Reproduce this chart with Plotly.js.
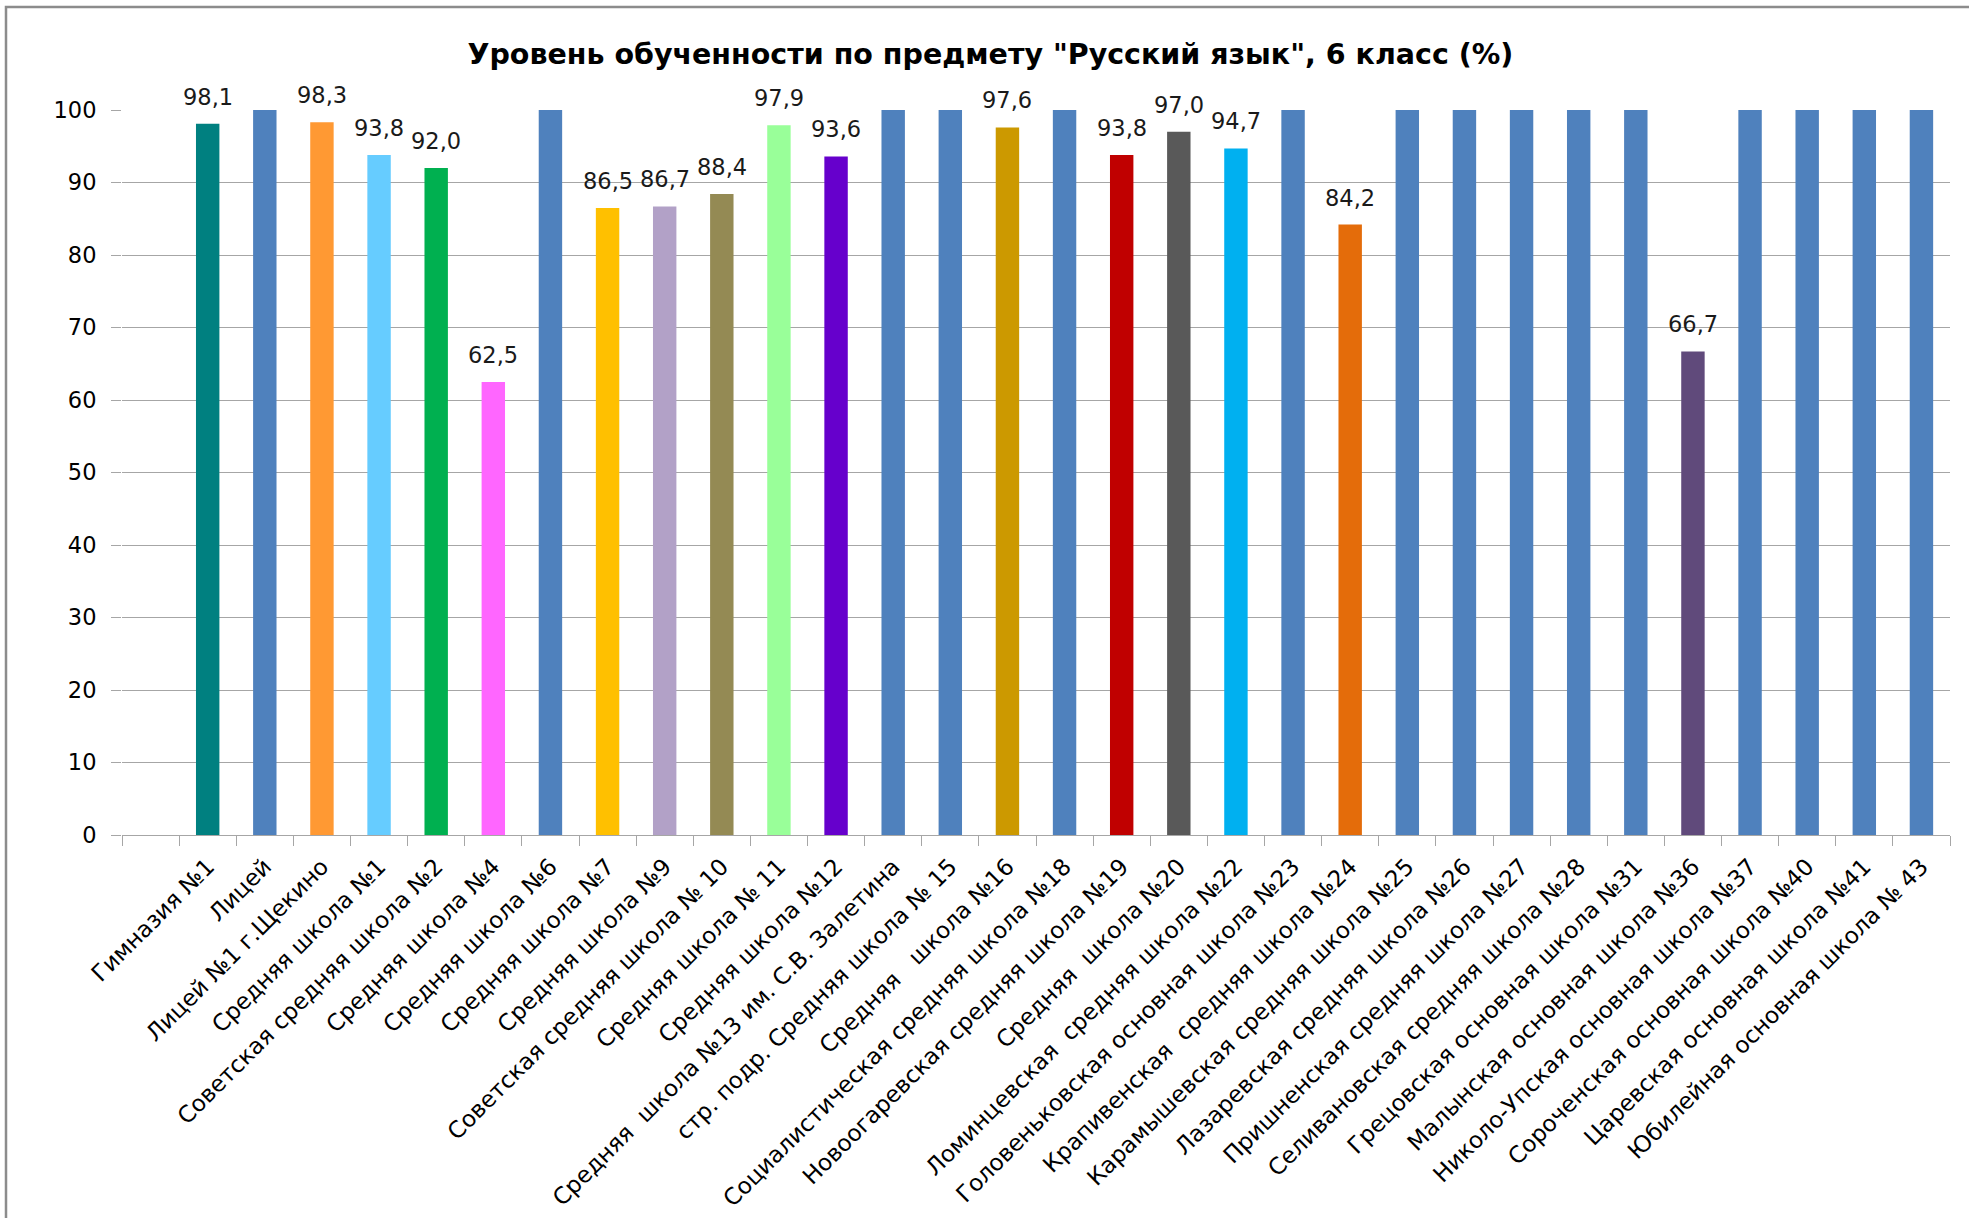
<!DOCTYPE html>
<html>
<head>
<meta charset="utf-8">
<script src="https://cdn.plot.ly/plotly-3.0.1.min.js"></script>
<style>html,body{margin:0;padding:0;background:#fff;}</style>
</head>
<body>
<div id="chart" style="width:1969px;height:1218px;"></div>
<script>
// ---- data ----
const schools = [
  " ",
  "Гимназия №1",
  "Лицей",
  "Лицей №1 г.Щекино",
  "Средняя школа №1",
  "Советская средняя школа №2",
  "Средняя школа №4",
  "Средняя школа №6",
  "Средняя школа №7",
  "Средняя школа №9",
  "Советская средняя школа № 10",
  "Средняя школа № 11",
  "Средняя школа №12",
  "Средняя  школа №13 им. С.В. Залетина",
  "стр. подр. Средняя школа № 15",
  "Средняя   школа №16",
  "Социалистическая средняя школа №18",
  "Новоогаревская средняя школа №19",
  "Средняя  школа №20",
  "Ломинцевская  средняя школа №22",
  "Головеньковская основная школа №23",
  "Крапивенская  средняя школа №24",
  "Карамышевская средняя школа №25",
  "Лазаревская средняя школа №26",
  "Пришненская средняя школа №27",
  "Селивановская средняя школа №28",
  "Грецовская основная школа №31",
  "Малынская основная школа №36",
  "Николо-Упская основная школа №37",
  "Сороченская основная школа №40",
  "Царевская основная школа №41",
  "Юбилейная основная школа № 43"
];
const levels = [
  null, 98.1, 100, 98.3, 93.8, 92.0, 62.5, 100, 86.5, 86.7, 88.4,
  97.9, 93.6, 100, 100, 97.6, 100, 93.8, 97.0, 94.7, 100,
  84.2, 100, 100, 100, 100, 100, 66.7, 100, 100, 100, 100
];
const barColors = [
  "#4F81BD", "#008080", "#4F81BD", "#FF9933", "#66CCFF", "#00B050", "#FF66FF", "#4F81BD", "#FFC000", "#B2A1C7", "#948A54",
  "#99FF99", "#6600CC", "#4F81BD", "#4F81BD", "#CC9900", "#4F81BD", "#C00000", "#595959", "#00B0F0", "#4F81BD",
  "#E46C0A", "#4F81BD", "#4F81BD", "#4F81BD", "#4F81BD", "#4F81BD", "#604A7B", "#4F81BD", "#4F81BD", "#4F81BD", "#4F81BD"
];
const yTickVals = [0, 10, 20, 30, 40, 50, 60, 70, 80, 90, 100];
const chartTitle = 'Уровень обученности по предмету "Русский язык", 6 класс (%)';

// ---- layout constants ----
const W = 1969, H = 1218;
const M = {l: 122, r: 19, t: 110, b: 383};
const plotW = W - M.l - M.r, plotH = H - M.t - M.b;
const FONT = "DejaVu Sans, sans-serif";
const GRID = "#a6a6a6";

// data labels (only for values below 100, as in the original)
const labelAnnots = [];
schools.forEach((s, i) => {
  const v = levels[i];
  if (v !== null && v < 100) {
    labelAnnots.push({
      x: s, y: v, xref: "x", yref: "y",
      text: v.toFixed(1).replace(".", ","),
      showarrow: false, yanchor: "bottom", xanchor: "center",
      yshift: 12,
      font: {family: FONT, size: 22.5, color: "#1a1a1a"}
    });
  }
});

const trace = {
  type: "bar",
  x: schools,
  y: levels,
  marker: {color: barColors, line: {width: 0}},
  width: 0.41,
  hoverinfo: "x+y"
};

const px2x = p => (p - M.l) / plotW;
const px2y = p => (H - M.b - p) / plotH;

const layout = {
  width: W, height: H,
  margin: M,
  paper_bgcolor: "#ffffff",
  plot_bgcolor: "#ffffff",
  showlegend: false,
  font: {family: FONT, color: "#000"},
  title: {
    text: "<b>" + chartTitle + "</b>",
    font: {family: FONT, size: 28.5, color: "#000"},
    xref: "container", x: 0.503, xanchor: "center",
    yref: "container", y: 1 - 54 / H, yanchor: "middle"
  },
  xaxis: {
    type: "category",
    range: [-0.5, schools.length - 0.5],
    tickson: "boundaries",
    ticks: "outside", ticklen: 10, tickcolor: GRID, tickwidth: 1,
    showline: true, linecolor: GRID, linewidth: 1,
    showgrid: false, zeroline: false,
    tickangle: -45,
    tickfont: {family: FONT, size: 23, color: "#000"},
    ticklabelstandoff: 8,
    fixedrange: true
  },
  yaxis: {
    range: [0, 100],
    tickmode: "array", tickvals: yTickVals, ticktext: yTickVals.map(String),
    ticks: "outside", ticklen: 10, tickcolor: GRID, tickwidth: 1,
    showline: false, zeroline: false,
    showgrid: true, gridcolor: GRID, gridwidth: 1,
    tickfont: {family: FONT, size: 22.5, color: "#000"},
    ticklabelstandoff: 10,
    fixedrange: true
  },
  annotations: labelAnnots,
  shapes: [{
    type: "rect", xref: "paper", yref: "paper",
    x0: px2x(6), x1: px2x(W + 20), y0: px2y(H + 20), y1: px2y(7),
    line: {color: "#8c8c8c", width: 2.5}, fillcolor: "rgba(0,0,0,0)", layer: "below"
  }]
};

Plotly.newPlot("chart", [trace], layout, {displayModeBar: false, staticPlot: true});
</script>
</body>
</html>
